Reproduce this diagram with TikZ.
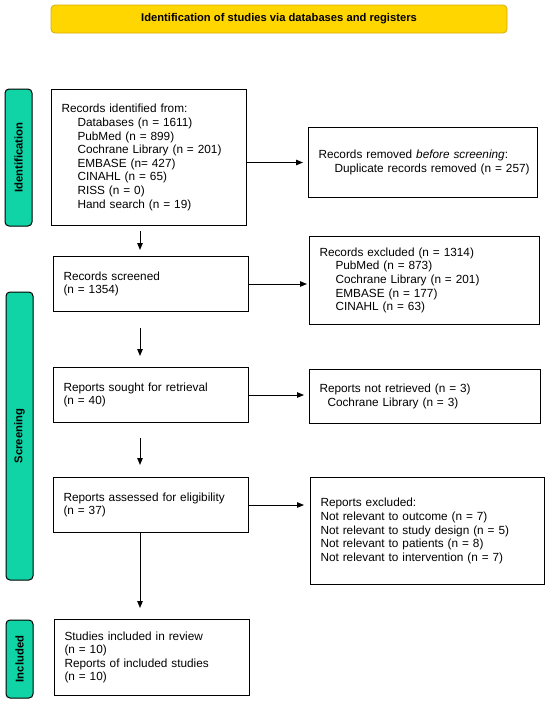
\documentclass[tikz,border=0pt]{standalone}
\usepackage{fontspec}
\setmainfont{Liberation Sans}
\usetikzlibrary{arrows.meta}
\definecolor{bannergold}{RGB}{255,214,0}
\definecolor{bannerrim}{RGB}{214,172,0}
\definecolor{phaseteal}{RGB}{16,212,166}

\begin{document}
\begin{tikzpicture}[x=1pt,y=-1pt,
        every node/.style={inner sep=0pt},
        flowbox/.style={draw, line width=1pt, anchor=north west, align=left, inner xsep=10pt,
            font=\fontsize{11.8}{13.6}\selectfont},
        phase/.style={draw, line width=1pt, fill=phaseteal, rounded corners=4pt, rotate=90,
            minimum height=27pt, font=\bfseries\fontsize{11.3}{13}\selectfont},
        arr/.style={-{Triangle[length=7pt,width=5.5pt]}, line width=1pt}]
        \useasboundingbox (0,0) rectangle (550,705);
        % banner
        \node[draw=bannerrim, fill=bannergold, rounded corners=4pt, line width=0.8pt,
            minimum width=456pt, minimum height=28pt,
            font=\bfseries\fontsize{11.2}{13}\selectfont] (banner) at (279,19)
            {Identification of studies via databases and registers};
        % phases
        \node[phase, minimum width=137pt] (phid) at (18.5,157.5) {Identification};
        \node[phase, minimum width=288pt] (phscr) at (19.5,436) {Screening};
        \node[phase, minimum width=78pt] (phinc) at (19.5,659) {Included};
        % main column
        \node[flowbox, text width=175pt, minimum height=136pt] (ident) at (51,89)
            {Records identified from:\\
            \hspace*{16pt}Databases (n = 1611)\\
            \hspace*{16pt}PubMed (n = 899)\\
            \hspace*{16pt}Cochrane Library (n = 201)\\
            \hspace*{16pt}EMBASE (n= 427)\\
            \hspace*{16pt}CINAHL (n = 65)\\
            \hspace*{16pt}RISS (n = 0)\\
            \hspace*{16pt}Hand search (n = 19)};
        \node[flowbox, text width=175pt, minimum height=55pt] (screen) at (53,256)
            {Records screened\\(n = 1354)};
        \node[flowbox, text width=175pt, minimum height=55pt] (sought) at (53,367)
            {Reports sought for retrieval\\(n = 40)};
        \node[flowbox, text width=175pt, minimum height=55pt] (assess) at (53,477)
            {Reports assessed for eligibility\\(n = 37)};
        \node[flowbox, text width=175pt, minimum height=76pt] (incl) at (54,619)
            {Studies included in review\\(n = 10)\\Reports of included studies\\(n = 10)};
        % side column
        \node[flowbox, text width=209pt, minimum height=70pt] (removed) at (308,127)
            {Records removed \textit{before screening}:\\
            \hspace*{16pt}\mbox{Duplicate records removed (n = 257)}};
        \node[flowbox, text width=210pt, minimum height=88pt] (excl) at (309,236)
            {Records excluded (n = 1314)\\
            \hspace*{16pt}PubMed (n = 873)\\
            \hspace*{16pt}Cochrane Library (n = 201)\\
            \hspace*{16pt}EMBASE (n = 177)\\
            \hspace*{16pt}CINAHL (n = 63)};
        \node[flowbox, text width=211pt, minimum height=54pt] (notret) at (309,369)
            {Reports not retrieved (n = 3)\\
            \hspace*{8pt}Cochrane Library (n = 3)};
        \node[flowbox, text width=214pt, minimum height=107pt] (repexcl) at (310,477)
            {Reports excluded:\\
            Not relevant to outcome (n = 7)\\
            Not relevant to study design (n = 5)\\
            Not relevant to patients (n = 8)\\
            Not relevant to intervention (n = 7)};
        % connectors
        \coordinate (spine) at (140,0);
        \draw[arr, shorten <=5pt, shorten >=6pt] (ident.south -| spine) -- (screen.north -| spine);
        \draw[arr, shorten <=16pt, shorten >=11pt] (screen.south -| spine) -- (sought.north -| spine);
        \draw[arr, shorten <=15pt, shorten >=12pt] (sought.south -| spine) -- (assess.north -| spine);
        \draw[arr, shorten >=11pt] (assess.south -| spine) -- (incl.north -| spine);
        \draw[arr, shorten >=5pt] (ident.east |- removed.west) -- (removed.west);
        \draw[arr, shorten >=2pt] (screen.east) -- (screen.east -| excl.west);
        \draw[arr, shorten >=5pt] (sought.east) -- (sought.east -| notret.west);
        \draw[arr, shorten >=6pt] (assess.east) -- (assess.east -| repexcl.west);
\end{tikzpicture}
\end{document}
